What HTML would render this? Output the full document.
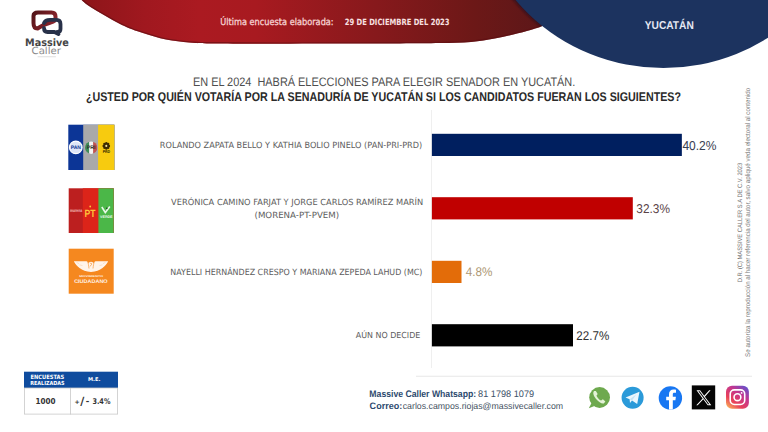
<!DOCTYPE html>
<html><head><meta charset="utf-8"><title>Massive Caller - Yucatán</title>
<style>
html,body{margin:0;padding:0;background:#fff;}
body{width:768px;height:432px;overflow:hidden;position:relative;}
svg{position:absolute;left:0;top:0;display:block;font-family:'Liberation Sans', Arial, sans-serif;}
text{white-space:pre;text-rendering:geometricPrecision;}
</style></head><body>
<svg width="768" height="432" viewBox="0 0 768 432">
<defs>
<linearGradient id="gRed" x1="80" y1="0" x2="560" y2="0" gradientUnits="userSpaceOnUse">
<stop offset="0" stop-color="#8c1519"/>
<stop offset="0.135" stop-color="#a0181f"/>
<stop offset="0.25" stop-color="#ab1a21"/>
<stop offset="0.365" stop-color="#a81a20"/>
<stop offset="0.615" stop-color="#87191c"/>
<stop offset="0.823" stop-color="#6c1817"/>
<stop offset="0.97" stop-color="#5c1719"/>
<stop offset="1" stop-color="#5a1719"/>
</linearGradient>
<filter id="blur1" x="-10%" y="-10%" width="120%" height="120%"><feGaussianBlur stdDeviation="1.2"/></filter>
<linearGradient id="gLogoR" x1="31" y1="10" x2="57" y2="30" gradientUnits="userSpaceOnUse">
<stop offset="0" stop-color="#4a1216"/>
<stop offset="0.6" stop-color="#7c1f26"/>
<stop offset="1" stop-color="#96303a"/>
</linearGradient>
<linearGradient id="gIg" x1="0" y1="1" x2="0.8" y2="0">
<stop offset="0" stop-color="#fdc65a"/>
<stop offset="0.35" stop-color="#e8405a"/>
<stop offset="0.7" stop-color="#c23690"/>
<stop offset="1" stop-color="#6a4fc8"/>
</linearGradient>
</defs>
<!-- header shapes -->
<path d="M60,-5 L81.6,-5 L81.6,0 C82.58,0.83 85.22,3.33 87.50,5.00 C89.78,6.67 92.57,8.33 95.30,10.00 C98.03,11.67 101.03,13.33 103.90,15.00 C106.77,16.67 109.50,18.33 112.50,20.00 C115.50,21.67 118.78,23.50 121.90,25.00 C125.03,26.50 128.78,27.98 131.25,29.00 C133.72,30.02 133.84,30.15 136.70,31.10 C139.56,32.05 144.48,33.52 148.40,34.70 C152.32,35.88 156.28,37.23 160.20,38.20 C164.12,39.17 168.00,39.87 171.90,40.50 C175.80,41.13 179.70,41.60 183.60,42.00 C187.50,42.40 190.07,42.67 195.30,42.90 C200.53,43.13 200.88,43.27 215.00,43.40 C229.12,43.53 259.17,43.67 280.00,43.70 C300.83,43.73 320.00,43.65 340.00,43.60 C360.00,43.55 383.33,43.48 400.00,43.40 C416.67,43.32 428.17,43.35 440.00,43.10 C451.83,42.85 461.88,42.68 471.00,41.90 C480.12,41.12 486.87,39.83 494.70,38.40 C502.53,36.97 511.49,34.87 518.00,33.30 C524.51,31.73 529.82,30.18 533.75,29.00 C537.68,27.82 538.06,27.75 541.60,26.25 C545.14,24.75 550.27,22.71 555.00,20.00 C559.73,17.29 565.00,13.33 570.00,10.00 C575.00,6.67 582.50,1.67 585.00,0.00 L600,-5 Z" fill="url(#gRed)"/>

<clipPath id="cpRed"><path d="M60,-5 L81.6,-5 L81.6,0 C82.58,0.83 85.22,3.33 87.50,5.00 C89.78,6.67 92.57,8.33 95.30,10.00 C98.03,11.67 101.03,13.33 103.90,15.00 C106.77,16.67 109.50,18.33 112.50,20.00 C115.50,21.67 118.78,23.50 121.90,25.00 C125.03,26.50 128.78,27.98 131.25,29.00 C133.72,30.02 133.84,30.15 136.70,31.10 C139.56,32.05 144.48,33.52 148.40,34.70 C152.32,35.88 156.28,37.23 160.20,38.20 C164.12,39.17 168.00,39.87 171.90,40.50 C175.80,41.13 179.70,41.60 183.60,42.00 C187.50,42.40 190.07,42.67 195.30,42.90 C200.53,43.13 200.88,43.27 215.00,43.40 C229.12,43.53 259.17,43.67 280.00,43.70 C300.83,43.73 320.00,43.65 340.00,43.60 C360.00,43.55 383.33,43.48 400.00,43.40 C416.67,43.32 428.17,43.35 440.00,43.10 C451.83,42.85 461.88,42.68 471.00,41.90 C480.12,41.12 486.87,39.83 494.70,38.40 C502.53,36.97 511.49,34.87 518.00,33.30 C524.51,31.73 529.82,30.18 533.75,29.00 C537.68,27.82 538.06,27.75 541.60,26.25 C545.14,24.75 550.27,22.71 555.00,20.00 C559.73,17.29 565.00,13.33 570.00,10.00 C575.00,6.67 582.50,1.67 585.00,0.00 L600,-5 Z"/></clipPath>
<g clip-path="url(#cpRed)"><path d="M81.6,0 C82.58,0.83 85.22,3.33 87.50,5.00 C89.78,6.67 92.57,8.33 95.30,10.00 C98.03,11.67 101.03,13.33 103.90,15.00 C106.77,16.67 109.50,18.33 112.50,20.00 C115.50,21.67 118.78,23.50 121.90,25.00 C125.03,26.50 128.78,27.98 131.25,29.00 C133.72,30.02 133.84,30.15 136.70,31.10 C139.56,32.05 144.48,33.52 148.40,34.70 C152.32,35.88 156.28,37.23 160.20,38.20 C164.12,39.17 168.00,39.87 171.90,40.50 C175.80,41.13 179.70,41.60 183.60,42.00 C187.50,42.40 190.07,42.67 195.30,42.90 C200.53,43.13 200.88,43.27 215.00,43.40 C229.12,43.53 259.17,43.67 280.00,43.70 C300.83,43.73 320.00,43.65 340.00,43.60 C360.00,43.55 383.33,43.48 400.00,43.40 C416.67,43.32 428.17,43.35 440.00,43.10 C451.83,42.85 461.88,42.68 471.00,41.90 C480.12,41.12 486.87,39.83 494.70,38.40 C502.53,36.97 511.49,34.87 518.00,33.30 C524.51,31.73 529.82,30.18 533.75,29.00 C537.68,27.82 538.06,27.75 541.60,26.25 C545.14,24.75 550.27,22.71 555.00,20.00 C559.73,17.29 565.00,13.33 570.00,10.00 C575.00,6.67 582.50,1.67 585.00,0.00" fill="none" stroke="#5e0d10" stroke-width="2.6" opacity="0.6"/></g>
<g clip-path="url(#cpRed)"><ellipse cx="663.4" cy="-116.7" rx="190.7" ry="184.8" fill="#1a1020" opacity="0.55" filter="url(#blur1)" transform="translate(-2.5,0)"/></g>
<ellipse cx="663.4" cy="-116.7" rx="190.7" ry="184.8" fill="#1c335f"/>

<!-- logo -->
<g fill="none" stroke-linecap="round" stroke-linejoin="round">
<path d="M37.5,28.5 C34,28.5 33.5,26 33.5,23 L33.5,16 C33.5,13.5 35,12.5 38,12.5 L51.5,12.5 C54.5,12.5 55.5,14 55.5,16.5 L55.5,19 C55.5,21.5 53,22 50,22.8 C46,23.8 41,26 37.5,28.5 Z" stroke="url(#gLogoR)" stroke-width="4"/>
<path d="M44,23 C45,20.5 47,19.8 50,19.8 L56.5,19.8 C59.5,19.8 60.5,21.5 60.5,24 L60.5,29 C60.5,31 59.5,32 57.5,32 L58.5,34 L54.5,32 L47.5,32 C45,32 44,30.5 44,28" stroke="#283149" stroke-width="3.8"/>
</g>
<rect x="37.6" y="56.4" width="18.3" height="0.8" fill="#d8d8d8"/>

<!-- party logos -->
<g>
<rect x="68.3" y="124.7" width="46.1" height="45.3" fill="#0c3596"/>
<rect x="83.2" y="124.7" width="31.2" height="45.3" fill="#a9a9aa"/>
<rect x="98.1" y="124.7" width="16.3" height="45.3" fill="#f7cb0f"/>
<circle cx="75.8" cy="147.4" r="6.3" fill="#dde5f7" stroke="#ffffff" stroke-width="1.2"/>
<text x="75.8" y="149.2" font-size="5" font-weight="700" fill="#0c3596" text-anchor="middle">PAN</text>
<clipPath id="cpri"><circle cx="91.2" cy="147.7" r="6.2"/></clipPath>
<g clip-path="url(#cpri)"><rect x="85" y="141" width="4.2" height="14" fill="#3e8c59"/><rect x="89.2" y="141" width="4" height="14" fill="#f4f4f4"/><rect x="93.2" y="141" width="4.2" height="14" fill="#c4534f"/></g>
<text x="91.2" y="149.4" font-size="5.2" font-weight="700" fill="#2c2c2c" text-anchor="middle">PRI</text>
<circle cx="108.90" cy="145.90" r="1.25" fill="#3d2c00"/><circle cx="108.14" cy="147.74" r="1.25" fill="#3d2c00"/><circle cx="106.30" cy="148.50" r="1.25" fill="#3d2c00"/><circle cx="104.46" cy="147.74" r="1.25" fill="#3d2c00"/><circle cx="103.70" cy="145.90" r="1.25" fill="#3d2c00"/><circle cx="104.46" cy="144.06" r="1.25" fill="#3d2c00"/><circle cx="106.30" cy="143.30" r="1.25" fill="#3d2c00"/><circle cx="108.14" cy="144.06" r="1.25" fill="#3d2c00"/><circle cx="106.3" cy="145.9" r="2.4" fill="#3d2c00"/><circle cx="106.3" cy="145.9" r="1.05" fill="#f3e2a0"/>
<text x="106.4" y="153.4" font-size="4" font-weight="700" fill="#2a1f00" text-anchor="middle" textLength="7.4" lengthAdjust="spacingAndGlyphs">PRD</text>
</g>
<g>
<rect x="68.7" y="188.3" width="45" height="44.7" fill="#bc1f1f"/>
<rect x="82.8" y="188.3" width="30.9" height="44.7" fill="#dc2419"/>
<rect x="98.4" y="188.3" width="15.3" height="44.7" fill="#4bb748"/>
<text x="76.1" y="212.3" font-size="4.6" font-weight="700" fill="#f0b4b4" text-anchor="middle" textLength="12.4" lengthAdjust="spacingAndGlyphs">morena</text>
<text x="89.9" y="217.2" font-size="10.5" font-weight="700" fill="#ffc23a" text-anchor="middle" textLength="11" lengthAdjust="spacingAndGlyphs">PT</text>
<circle cx="90.2" cy="206.5" r="0.9" fill="#ffc23a"/>
<path d="M101.8,207 L105.3,212.5 L109.8,206.5" fill="none" stroke="#e8f7e8" stroke-width="1.6"/>
<circle cx="106.8" cy="208.2" r="0.8" fill="#1a3a1a"/>
<text x="106.3" y="217.8" font-size="3.6" font-weight="700" fill="#e8f7e8" text-anchor="middle" textLength="12.5" lengthAdjust="spacingAndGlyphs">VERDE</text>
</g>
<g>
<rect x="68.7" y="248.7" width="45" height="45" fill="#f5881f"/>
<path d="M73.8,261.2 L86.5,261.3 C88,262 88.6,263 89,264 L93,264 C93.4,263 94,262 95.5,261.3 L108.2,261.2 C106.7,264 105,266 102.5,268 C99.5,270.3 96,271.5 91,272 C86,271.5 82.5,270.3 79.5,268 C77,266 75.3,264 73.8,261.2 Z" fill="#fff4ea"/>
<circle cx="91" cy="264.4" r="2.6" fill="#fff4ea"/>
<path d="M87.6,261.6 C88.4,263.5 88.6,265.5 89,268.5 M94.4,261.6 C93.6,263.5 93.4,265.5 93,268.5" fill="none" stroke="#f5881f" stroke-width="0.6"/>
<path d="M90.2,263.6 C90.8,262.8 92,263.2 91.6,264.4 C91.2,265.4 90.2,265.4 90.2,266.4" fill="none" stroke="#f5881f" stroke-width="0.7"/>
<path d="M76.5,262.4 L79,263.6 M79.5,264.8 L82.5,265.6 M99.5,265.6 L102.5,264.8 M103,263.6 L105.5,262.4" stroke="#f6c9a0" stroke-width="0.5"/>
<text x="91.2" y="277" font-size="2.6" font-weight="700" fill="#fff3e8" text-anchor="middle" textLength="24" lengthAdjust="spacingAndGlyphs">MOVIMIENTO</text>
<text x="90.9" y="283" font-size="5.2" font-weight="700" fill="#fff3e8" text-anchor="middle" textLength="33.5" lengthAdjust="spacingAndGlyphs">CIUDADANO</text>
</g>

<!-- axis & bars -->
<rect x="431" y="110" width="0.8" height="258" fill="#ececec"/>
<rect x="431.9" y="133.8" width="249.95" height="22.2" fill="#001f5f"/>
<rect x="431.9" y="197.2" width="200.9" height="22.2" fill="#c00000"/>
<rect x="431.9" y="260.8" width="29.6" height="22.2" fill="#e36c09"/>
<rect x="431.9" y="324.2" width="141.1" height="22.2" fill="#000000"/>

<!-- table -->
<rect x="24" y="371.7" width="94" height="16.3" fill="#0f4c9e"/>
<rect x="24.4" y="388" width="93.2" height="26.1" fill="#fff" stroke="#c9c9c9" stroke-width="0.8"/>
<rect x="70" y="388" width="0.8" height="26.5" fill="#c9c9c9"/>

<text x="77.05" y="403.7" font-family="'DejaVu Sans', 'Liberation Sans', sans-serif" font-size="6.2" font-weight="700" fill="#333333" text-anchor="middle">+</text>
<text x="82.4" y="405.2" font-family="'DejaVu Sans', 'Liberation Sans', sans-serif" font-size="11.2" font-weight="700" fill="#333333" text-anchor="middle">/</text>
<text x="87.5" y="404.4" font-family="'DejaVu Sans', 'Liberation Sans', sans-serif" font-size="8.6" font-weight="700" fill="#333333" text-anchor="middle">-</text>
<!-- footer -->
<rect x="416" y="375.8" width="336" height="0.8" fill="#e2e2e2"/>
<!-- whatsapp -->
<circle cx="599.6" cy="397.5" r="10.4" fill="#6ea94e"/>
<path d="M591.5,403 L588.8,408.2 L594.5,406" fill="#6ea94e"/>
<path transform="translate(599.5,397.4) scale(1.22) translate(-599.5,-397.4)" d="M595,392.2 C594,393.5 594.2,395.5 596.5,398.5 C599,401.5 601.5,402.8 603,402.3 L604.3,400.8 L602.3,399 L600.8,400 C599.5,399.5 597.8,397.6 597,396 L598,394.6 L596.5,392.2 Z" fill="#e4f2d6"/>
<!-- telegram -->
<circle cx="632.6" cy="397.7" r="11" fill="#2b9ad9"/>
<path d="M625.5,397.5 L639.5,391.8 L637.2,404 L632,400.5 L630,403 L629.6,399.3 Z" fill="#eaf6fd"/>
<path d="M629.8,399.3 L636.5,394.2 L632,400.5" fill="#c5e3f5"/>
<!-- facebook -->
<circle cx="670.4" cy="397.9" r="11.7" fill="#1877f2"/>
<path d="M669,409.6 L669,400.2 L666.2,400.2 L666.2,396.8 L669,396.8 L669,394.3 C669,391.2 670.8,389.6 673.6,389.6 C674.8,389.6 675.8,389.8 676,389.8 L676,392.7 L674.4,392.7 C673.1,392.7 672.8,393.4 672.8,394.4 L672.8,396.8 L675.9,396.8 L675.4,400.2 L672.8,400.2 L672.8,409.6 Z" fill="#ffffff"/>
<!-- X -->
<rect x="691.8" y="385.4" width="23.4" height="24" fill="#050505"/>
<path d="M696.5,390.3 L702.6,398.4 L696.3,405.2 L697.7,405.2 L703.3,399.3 L707.7,405.2 L711.3,405.2 L704.9,396.7 L710.6,390.3 L709.2,390.3 L704.2,395.8 L700.1,390.3 Z" fill="#ffffff"/>
<path d="M698.4,391.3 L699.7,391.3 L709.4,404.2 L708.1,404.2 Z" fill="#050505"/>
<!-- instagram -->
<rect x="726" y="385.7" width="22.9" height="23" rx="6" fill="url(#gIg)"/>
<rect x="730.2" y="389.9" width="14.5" height="14.6" rx="4.2" fill="none" stroke="#fff" stroke-width="1.6"/>
<circle cx="737.45" cy="397.2" r="3.4" fill="none" stroke="#fff" stroke-width="1.6"/>
<circle cx="741.6" cy="392.9" r="0.9" fill="#fff"/>

<!-- texts -->
<text x="220.16" y="24.85" font-family="&apos;DejaVu Sans&apos;, &apos;Liberation Sans&apos;, sans-serif" font-size="9.46" font-weight="400" fill="#f6d2d2" textLength="113.48" lengthAdjust="spacingAndGlyphs" stroke="#f6d2d2" stroke-width="0.3">Última encuesta elaborada:</text><!-- s=0.867 -->
<text x="344.77" y="24.65" font-family="&apos;DejaVu Sans&apos;, &apos;Liberation Sans&apos;, sans-serif" font-size="8.65" font-weight="700" fill="#f8e0e0" textLength="104.81" lengthAdjust="spacingAndGlyphs">29 DE DICIEMBRE DEL 2023</text><!-- s=0.785 -->
<text x="644.74" y="28.85" font-size="11.45" font-weight="700" fill="#e6e9f4" textLength="49.03" lengthAdjust="spacingAndGlyphs">YUCATÁN</text><!-- s=0.890 -->
<text x="25.04" y="45.70" font-family="&apos;DejaVu Sans&apos;, &apos;Liberation Sans&apos;, sans-serif" font-size="10.21" font-weight="700" fill="#454545" textLength="43.82" lengthAdjust="spacingAndGlyphs">Massive</text><!-- s=0.946 -->
<text x="31.52" y="54.30" font-family="&apos;DejaVu Sans&apos;, &apos;Liberation Sans&apos;, sans-serif" font-size="9.80" font-weight="400" fill="#8a8a8a" textLength="29.47" lengthAdjust="spacingAndGlyphs">Caller</text><!-- s=1.039 -->
<text x="192.95" y="85.60" font-size="12.37" font-weight="400" fill="#4e4e4e" textLength="382.33" lengthAdjust="spacingAndGlyphs">EN EL 2024  HABRÁ ELECCIONES PARA ELEGIR SENADOR EN YUCATÁN.</text><!-- s=0.879 -->
<text x="85.90" y="100.60" font-size="12.66" font-weight="700" fill="#2a2a2a" textLength="595.12" lengthAdjust="spacingAndGlyphs">¿USTED POR QUIÉN VOTARÍA POR LA SENADURÍA DE YUCATÁN SI LOS CANDIDATOS FUERAN LOS SIGUIENTES?</text><!-- s=0.843 -->
<text x="159.84" y="147.60" font-family="&apos;DejaVu Sans&apos;, &apos;Liberation Sans&apos;, sans-serif" font-size="8.58" font-weight="400" fill="#5c5c5c" textLength="262.40" lengthAdjust="spacingAndGlyphs">ROLANDO ZAPATA BELLO Y KATHIA BOLIO PINELO (PAN-PRI-PRD)</text><!-- s=0.950 -->
<text x="171.10" y="204.90" font-family="&apos;DejaVu Sans&apos;, &apos;Liberation Sans&apos;, sans-serif" font-size="8.44" font-weight="400" fill="#5c5c5c" textLength="252.06" lengthAdjust="spacingAndGlyphs">VERÓNICA CAMINO FARJAT Y JORGE CARLOS RAMÍREZ MARÍN</text><!-- s=0.979 -->
<text x="254.52" y="218.20" font-family="&apos;DejaVu Sans&apos;, &apos;Liberation Sans&apos;, sans-serif" font-size="8.58" font-weight="400" fill="#5c5c5c" textLength="84.65" lengthAdjust="spacingAndGlyphs">(MORENA-PT-PVEM)</text><!-- s=1.008 -->
<text x="170.36" y="274.70" font-family="&apos;DejaVu Sans&apos;, &apos;Liberation Sans&apos;, sans-serif" font-size="8.58" font-weight="400" fill="#5c5c5c" textLength="252.06" lengthAdjust="spacingAndGlyphs">NAYELLI HERNÁNDEZ CRESPO Y MARIANA ZEPEDA LAHUD (MC)</text><!-- s=0.926 -->
<text x="355.80" y="338.10" font-family="&apos;DejaVu Sans&apos;, &apos;Liberation Sans&apos;, sans-serif" font-size="8.31" font-weight="400" fill="#5c5c5c" textLength="64.53" lengthAdjust="spacingAndGlyphs">AÚN NO DECIDE</text><!-- s=0.955 -->
<text x="682.41" y="149.50" font-size="12.94" font-weight="400" fill="#394052" textLength="34.05" lengthAdjust="spacingAndGlyphs">40.2%</text><!-- s=0.928 -->
<text x="636.33" y="212.80" font-size="12.80" font-weight="400" fill="#5a4347" textLength="33.62" lengthAdjust="spacingAndGlyphs">32.3%</text><!-- s=0.926 -->
<text x="465.82" y="276.30" font-size="12.52" font-weight="400" fill="#ad9774" textLength="26.63" lengthAdjust="spacingAndGlyphs">4.8%</text><!-- s=0.934 -->
<text x="576.36" y="339.70" font-size="12.66" font-weight="400" fill="#303030" textLength="32.89" lengthAdjust="spacingAndGlyphs">22.7%</text><!-- s=0.916 -->
<text x="30.50" y="378.70" font-family="&apos;DejaVu Sans&apos;, &apos;Liberation Sans&apos;, sans-serif" font-size="5.86" font-weight="700" fill="#ffffff" textLength="33.73" lengthAdjust="spacingAndGlyphs">ENCUESTAS</text><!-- s=0.877 -->
<text x="30.22" y="385.40" font-family="&apos;DejaVu Sans&apos;, &apos;Liberation Sans&apos;, sans-serif" font-size="5.58" font-weight="700" fill="#ffffff" textLength="34.29" lengthAdjust="spacingAndGlyphs">REALIZADAS</text><!-- s=0.870 -->
<text x="88.00" y="381.40" font-family="&apos;DejaVu Sans&apos;, &apos;Liberation Sans&apos;, sans-serif" font-size="5.31" font-weight="700" fill="#ffffff" textLength="12.40" lengthAdjust="spacingAndGlyphs">M.E.</text><!-- s=0.958 -->
<text x="35.41" y="404.00" font-family="&apos;DejaVu Sans&apos;, &apos;Liberation Sans&apos;, sans-serif" font-size="8.17" font-weight="700" fill="#333333" textLength="20.07" lengthAdjust="spacingAndGlyphs">1000</text><!-- s=0.883 -->
<text x="92.39" y="404.40" font-family="&apos;DejaVu Sans&apos;, &apos;Liberation Sans&apos;, sans-serif" font-size="7.90" font-weight="700" fill="#333333" textLength="18.02" lengthAdjust="spacingAndGlyphs">3.4%</text><!-- s=0.823 -->
<text x="369.36" y="397.30" font-size="9.53" font-weight="700" fill="#2d4a6e" textLength="106.76" lengthAdjust="spacingAndGlyphs">Massive Caller Whatsapp:</text><!-- s=0.908 -->
<text x="478.11" y="397.30" font-size="9.53" font-weight="400" fill="#3c5068" textLength="56.01" lengthAdjust="spacingAndGlyphs">81 1798 1079</text><!-- s=0.961 -->
<text x="369.62" y="408.70" font-size="9.39" font-weight="700" fill="#2d4a6e" textLength="32.63" lengthAdjust="spacingAndGlyphs">Correo:</text><!-- s=0.963 -->
<text x="-0.45" y="0" transform="translate(741.70,281.80) rotate(-90)" font-size="6.40" font-weight="400" fill="#6e6e6e" textLength="119.48" lengthAdjust="spacingAndGlyphs">D.R. (C) MASSIVE CALLER S.A DE C.V. 2023</text><!-- s=0.900 -->
<text x="-0.19" y="0" transform="translate(750.20,356.70) rotate(-90)" font-size="6.83" font-weight="400" fill="#7a7a7a" textLength="269.14" lengthAdjust="spacingAndGlyphs">Se autoriza la reproducción al hacer referencia del autor, salvo apliqué veda electoral al contenido</text><!-- s=0.908 -->
<text x="402.73" y="408.70" font-size="8.99" font-weight="400" fill="#45525f" textLength="160.43" lengthAdjust="spacingAndGlyphs">carlos.campos.riojas@massivecaller.com</text><!-- s=0.976 -->
</svg>
</body></html>
